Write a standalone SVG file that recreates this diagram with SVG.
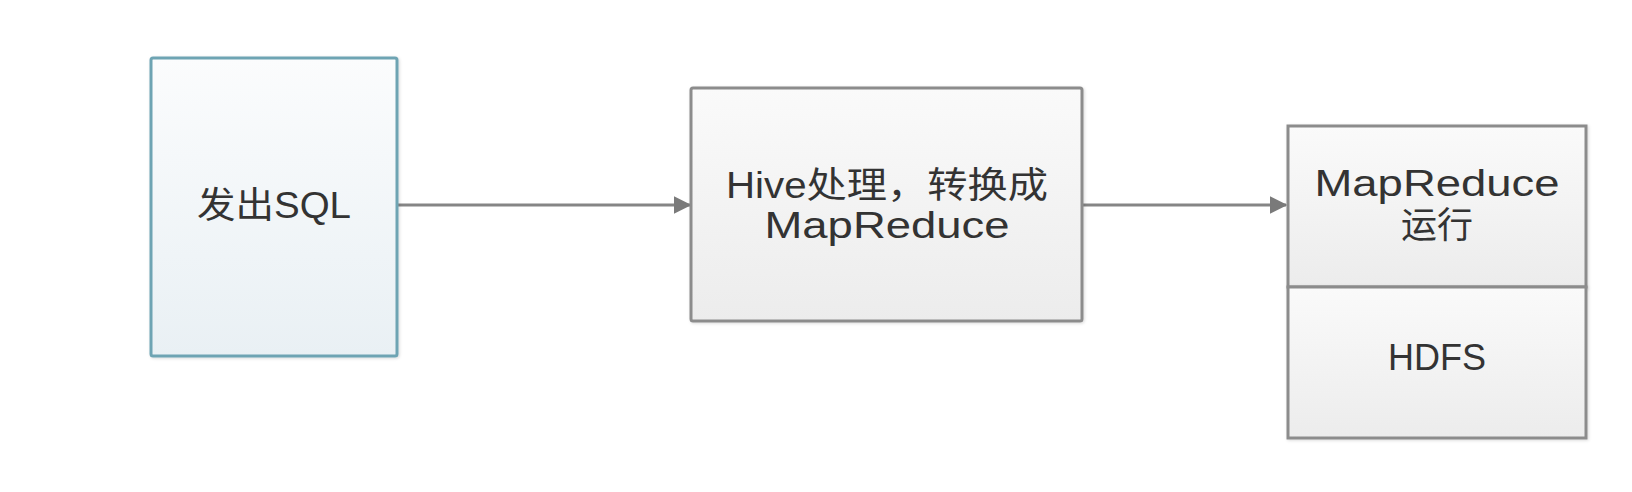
<svg xmlns="http://www.w3.org/2000/svg" width="1632" height="492" viewBox="0 0 1632 492">
<style>
.t{font-family:"Liberation Sans","Noto Sans CJK SC",sans-serif;font-size:36px;fill:#333;text-anchor:middle;dominant-baseline:central}
.g{fill:url(#gg);stroke:#8c8c8c;stroke-width:3}
.c{stroke:#858585;stroke-width:3;fill:none}
</style>
<defs>
<linearGradient id="gb" x1="0" y1="0" x2="0" y2="1"><stop offset="0" stop-color="#fbfcfd"/><stop offset="1" stop-color="#e9f0f4"/></linearGradient>
<linearGradient id="gg" x1="0" y1="0" x2="0" y2="1"><stop offset="0" stop-color="#fafafa"/><stop offset="1" stop-color="#ececec"/></linearGradient>
<marker id="ah" markerWidth="6" markerHeight="6" refX="5.5" refY="3" orient="auto" markerUnits="strokeWidth"><path d="M0,0 L6,3 L0,6 Z" fill="#7a7a7a"/></marker>
<filter id="sh" x="-5%" y="-5%" width="110%" height="110%"><feDropShadow dx="1" dy="1" stdDeviation="1.5" flood-color="#000" flood-opacity="0.15"/></filter>
</defs>
<g id="connectors">
<line class="c" x1="397" y1="205" x2="690" y2="205" marker-end="url(#ah)"/>
<line class="c" x1="1082" y1="205" x2="1286" y2="205" marker-end="url(#ah)"/>
</g>
<g id="n1">
<rect x="151" y="58" width="246" height="298" fill="url(#gb)" stroke="#6ea4b3" stroke-width="3" rx="2" filter="url(#sh)"/>
<text class="t" x="274" y="205" textLength="154" lengthAdjust="spacingAndGlyphs">发出SQL</text>
</g>
<g id="n2">
<rect class="g" x="691" y="88" width="391" height="233" rx="2" filter="url(#sh)"/>
<text class="t" x="887" y="185" textLength="322" lengthAdjust="spacingAndGlyphs">Hive处理，转换成</text>
<text class="t" x="887" y="225" textLength="245" lengthAdjust="spacingAndGlyphs">MapReduce</text>
</g>
<g id="n3">
<rect class="g" x="1288" y="126" width="298" height="161" filter="url(#sh)"/>
<text class="t" x="1437" y="183" textLength="245" lengthAdjust="spacingAndGlyphs">MapReduce</text>
<text class="t" x="1437" y="225">运行</text>
</g>
<g id="n4">
<rect class="g" x="1288" y="287" width="298" height="151" filter="url(#sh)"/>
<text class="t" x="1437" y="357">HDFS</text>
</g>
</svg>
